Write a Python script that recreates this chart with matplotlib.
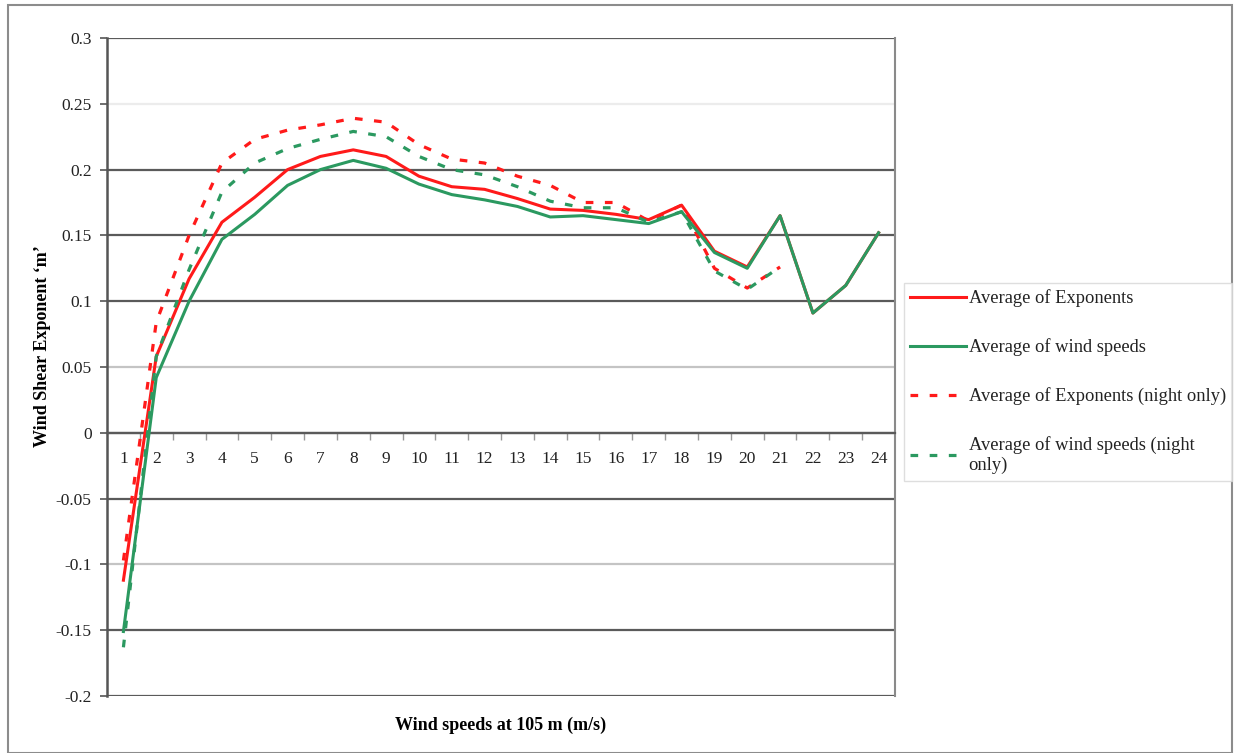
import matplotlib
matplotlib.use("Agg")
import matplotlib.pyplot as plt
from matplotlib.patches import Rectangle
from matplotlib.ticker import FixedLocator, FuncFormatter

# Wind speed bins (m/s) at 105 m
speeds = list(range(1, 25))
night_speeds = list(range(1, 22))

# Shear exponent, all hours
exp_all = [-0.112, 0.058, 0.117, 0.160, 0.179, 0.200, 0.210, 0.215, 0.210, 0.195,
           0.187, 0.185, 0.178, 0.170, 0.169, 0.166, 0.162, 0.173, 0.138, 0.126,
           0.165, 0.091, 0.112, 0.152]
ws_all = [-0.151, 0.042, 0.100, 0.147, 0.166, 0.188, 0.200, 0.207, 0.201, 0.189,
          0.181, 0.177, 0.172, 0.164, 0.165, 0.162, 0.159, 0.168, 0.137, 0.125,
          0.165, 0.091, 0.112, 0.152]

# Shear exponent, night hours only
exp_night = [-0.097, 0.084, 0.150, 0.205, 0.223, 0.230, 0.234, 0.239, 0.236, 0.219,
             0.208, 0.205, 0.195, 0.188, 0.175, 0.175, 0.161, 0.173, 0.125, 0.110,
             0.126]
ws_night = [-0.163, 0.058, 0.124, 0.183, 0.205, 0.216, 0.223, 0.229, 0.225, 0.210,
            0.200, 0.196, 0.187, 0.176, 0.171, 0.171, 0.160, 0.168, 0.123, 0.109,
            0.126]

labels = ["Average of Exponents", "Average of wind speeds",
          "Average of Exponents (night only)", "Average of wind speeds (night\nonly)"]

y_ticks = [-0.2, -0.15, -0.1, -0.05, 0, 0.05, 0.1, 0.15, 0.2, 0.25, 0.3]
grid_colors = {-0.2: "#5a5a5a", -0.15: "#5a5a5a", -0.1: "#c4c4c4", -0.05: "#5a5a5a",
               0: "#5a5a5a", 0.05: "#c4c4c4", 0.1: "#5a5a5a", 0.15: "#5a5a5a",
               0.2: "#5a5a5a", 0.25: "#ececec", 0.3: "#5a5a5a"}

RED = "#ff1a1a"
GREEN = "#2b9960"
SERIF = ["Liberation Serif", "DejaVu Serif"]

plt.rcParams["font.family"] = SERIF
plt.rcParams["font.size"] = 12.5

fig = plt.figure(figsize=(12.35, 7.53), dpi=100)
ax = fig.add_axes([107 / 1235, 1 - 696 / 753, 788 / 1235, 658 / 753])

dash = (0, (2.4, 3.6))
l1, = ax.plot(speeds, exp_all, color=RED, lw=2.2, zorder=3)
l2, = ax.plot(speeds, ws_all, color=GREEN, lw=2.2, zorder=4)
l3, = ax.plot(night_speeds, exp_night, color=RED, lw=2.3, linestyle=dash, zorder=3)
l4, = ax.plot(night_speeds, ws_night, color=GREEN, lw=2.3, linestyle=dash, zorder=3)

ax.set_xlim(0.5, 24.5)
ax.set_ylim(-0.2, 0.3)

# y axis
ax.set_yticks(y_ticks)
ax.yaxis.set_major_formatter(FuncFormatter(lambda v, p: "%g" % round(v, 2)))
ax.tick_params(axis="y", length=5, width=1.2, color="#555555", pad=6,
               labelsize=12.5, labelcolor="#222222")
ax.yaxis.grid(True, linewidth=1.6)
for t, v in zip(ax.yaxis.get_major_ticks(), y_ticks):
    t.gridline.set_color(grid_colors[round(v, 2)])
ax.set_axisbelow(True)

# category x axis crossing at zero
ax.spines["bottom"].set_position(("data", 0))
ax.spines["bottom"].set_color("#5a5a5a")
ax.spines["bottom"].set_linewidth(1.6)
ax.spines["top"].set_visible(False)
ax.spines["left"].set_color("#555555")
ax.spines["left"].set_linewidth(1.8)
ax.spines["right"].set_color("#8a8a8a")
ax.spines["right"].set_linewidth(1.5)

ax.xaxis.set_major_locator(FixedLocator(speeds))
ax.xaxis.set_minor_locator(FixedLocator([s + 0.5 for s in speeds[:-1]]))
ax.tick_params(axis="x", which="major", length=0, pad=13, labelsize=12.5,
               labelcolor="#222222")
ax.tick_params(axis="x", which="minor", length=5, width=1, color="#999999",
               direction="out")

ax.set_xlabel("Wind speeds at 105 m (m/s)", fontweight="bold", fontsize=13)
ax.xaxis.set_label_coords(0.5, -0.032)
ax.set_ylabel("Wind Shear Exponent \u2018m\u2019", fontweight="bold", fontsize=13)
ax.yaxis.set_label_coords(-0.071, 0.532)

leg = fig.legend([l1, l2, l3, l4], labels, loc="upper left",
                 bbox_to_anchor=(904 / 1235, 1 - 283 / 753), borderaxespad=0,
                 frameon=True, fancybox=False, edgecolor="#d6d6d6",
                 handlelength=3.0, handletextpad=0.15, labelspacing=1.68,
                 borderpad=0.35, fontsize=13.3)
leg.get_frame().set_linewidth(1.0)
for txt in leg.get_texts():
    txt.set_color("#222222")

# outer frame around the whole chart
fig.patches.append(Rectangle((8 / 1235, 0), 1224 / 1235, 1 - 5 / 753,
                             transform=fig.transFigure, fill=False,
                             edgecolor="#8c8c8c", linewidth=1.5))

fig.savefig("out.png", dpi=100)
